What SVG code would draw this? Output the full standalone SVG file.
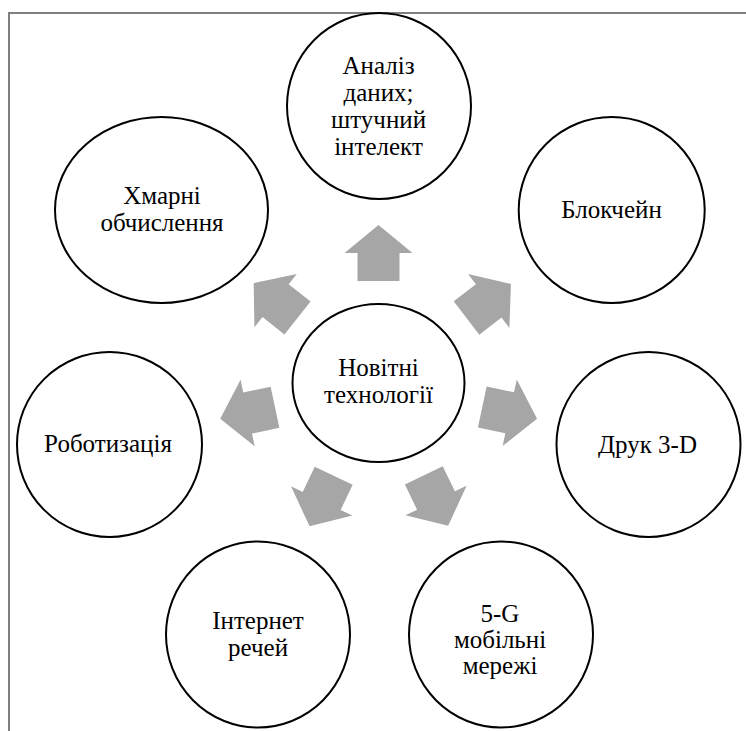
<svg xmlns="http://www.w3.org/2000/svg" xmlns:xlink="http://www.w3.org/1999/xlink" width="746" height="731" viewBox="0 0 746 731">
<style>
.node{fill:#fff;stroke:#000;stroke-width:2}
.t{font-family:"Liberation Serif","DejaVu Serif",serif;font-size:25px;fill:#000;text-anchor:middle}
.arr{fill:#a6a6a6}
.frame{fill:none;stroke:#808080;stroke-width:2}
</style>
<defs>
<path id="arrow" d="M0,-21 H28 V-34 L56,0 L28,34 V21 H0 Z"/>
</defs>
<rect width="746" height="731" fill="#fff"/>
<path class="frame" d="M9,731 V13 H746"/>
<g id="connectors" class="arr">
<use xlink:href="#arrow" href="#arrow" transform="translate(378.5,281) rotate(-90)"/>
<use xlink:href="#arrow" href="#arrow" transform="translate(466.5,318) rotate(-37.5)"/>
<use xlink:href="#arrow" href="#arrow" transform="translate(482.3,407) rotate(12)"/>
<use xlink:href="#arrow" href="#arrow" transform="translate(423.8,475.3) rotate(64.2)"/>
<use xlink:href="#arrow" href="#arrow" transform="translate(333.7,475.7) rotate(115.5)"/>
<use xlink:href="#arrow" href="#arrow" transform="translate(275,407.2) rotate(168)"/>
<use xlink:href="#arrow" href="#arrow" transform="translate(297.5,318) rotate(-141.5)"/>
</g>
<g id="center">
<ellipse class="node" cx="378.5" cy="383" rx="86" ry="79"/>
<text class="t" x="378.5" y="376">Новітні</text>
<text class="t" x="378.5" y="403">технології</text>
</g>
<g id="analysis">
<ellipse class="node" cx="379" cy="106" rx="92" ry="93"/>
<text class="t" x="378.5" y="74">Аналіз</text>
<text class="t" x="378.5" y="101">даних;</text>
<text class="t" x="378.5" y="128">штучний</text>
<text class="t" x="378.5" y="155">інтелект</text>
</g>
<g id="blockchain">
<ellipse class="node" cx="611.7" cy="210" rx="93" ry="93"/>
<text class="t" x="611.5" y="218">Блокчейн</text>
</g>
<g id="print3d">
<ellipse class="node" cx="648.5" cy="444.5" rx="92" ry="92.5"/>
<text class="t" x="647.5" y="453">Друк 3-D</text>
</g>
<g id="mobile5g">
<ellipse class="node" cx="501" cy="634.5" rx="92" ry="93"/>
<text class="t" x="500" y="622">5-G</text>
<text class="t" x="500" y="648">мобільні</text>
<text class="t" x="500" y="674">мережі</text>
</g>
<g id="iot">
<ellipse class="node" cx="258" cy="634.5" rx="92" ry="93"/>
<text class="t" x="258" y="629">Інтернет</text>
<text class="t" x="258" y="656">речей</text>
</g>
<g id="robotics">
<ellipse class="node" cx="109.5" cy="444.5" rx="92.5" ry="92.5"/>
<text class="t" x="108" y="452">Роботизація</text>
</g>
<g id="cloud">
<ellipse class="node" cx="161.5" cy="210" rx="106.5" ry="93"/>
<text class="t" x="162" y="204">Хмарні</text>
<text class="t" x="162" y="231">обчислення</text>
</g>
</svg>
